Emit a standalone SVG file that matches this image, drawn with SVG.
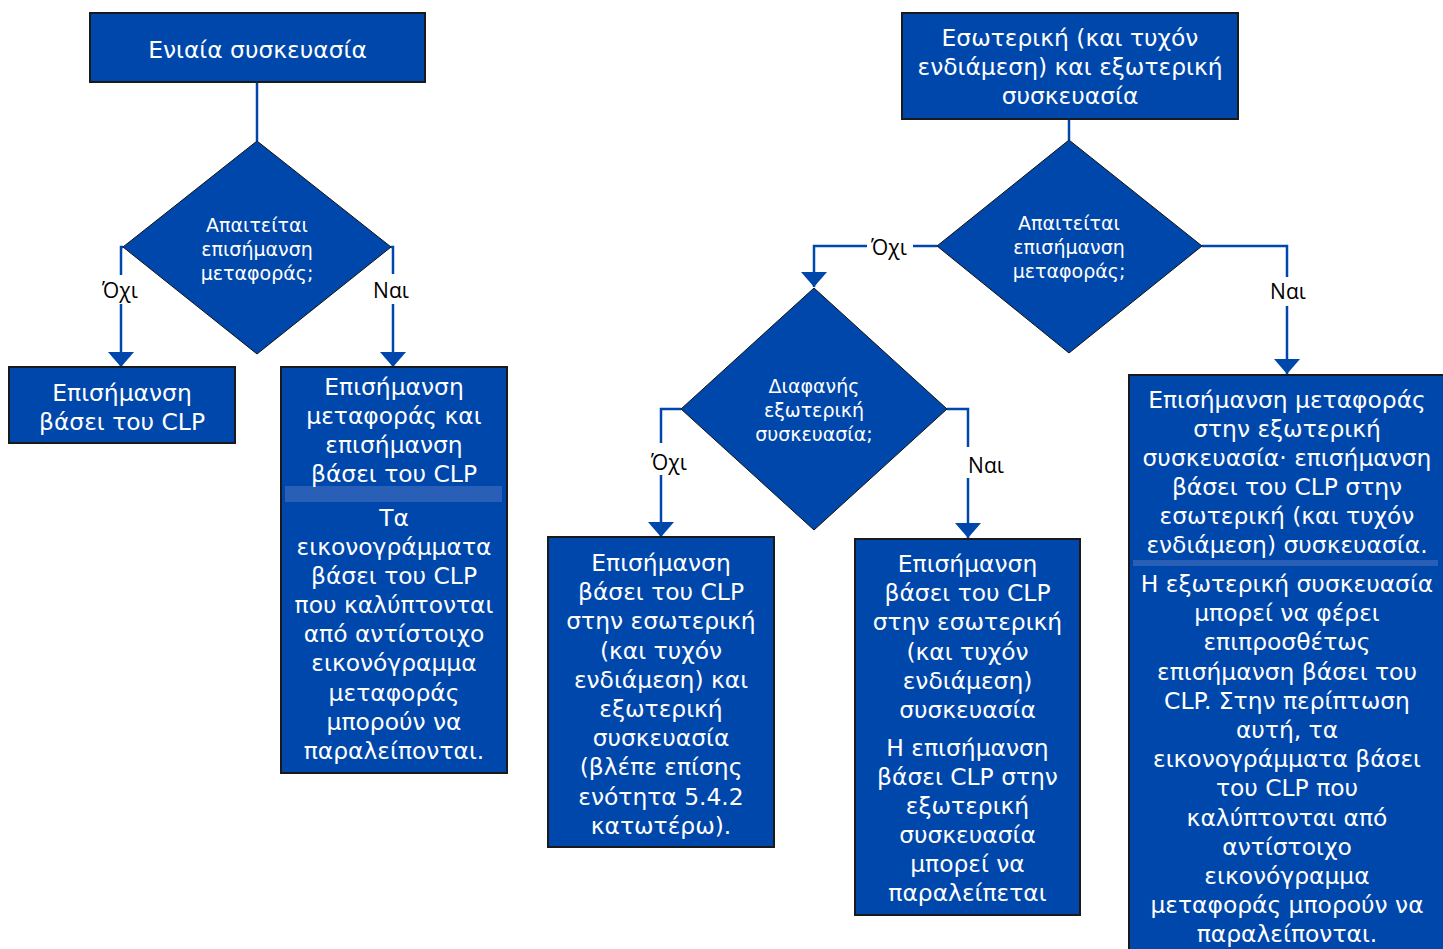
<svg xmlns="http://www.w3.org/2000/svg" width="1443" height="949" viewBox="0 0 1443 949">
<defs>
<marker id="arr" viewBox="0 0 15 26" refX="15" refY="13" markerWidth="15" markerHeight="26" markerUnits="userSpaceOnUse" orient="auto">
<path d="M0,0 L15,13 L0,26 z" fill="#0047AB"/>
</marker>
<style>
.box{fill:#0047AB;stroke:#1a1a1a;stroke-width:2}
.dia{fill:#0047AB;stroke:#111;stroke-width:1}
.band{fill:#2A5FB8}
.bt{font-family:"DejaVu Sans",Verdana,sans-serif;font-size:23.4px;fill:#fff;text-anchor:middle}
.dt{font-family:"DejaVu Sans",sans-serif;font-size:19px;fill:#fff;text-anchor:middle}
.lbl{font-family:"Open Sans","Noto Sans",sans-serif;font-size:21px;fill:#000;text-anchor:middle}
.con{fill:none;stroke:#0047AB;stroke-width:2.5}
</style>
</defs>
<rect width="1443" height="949" fill="#fff"/>
<g id="connectors">
<path class="con" d="M257,83 V141"/>
<path class="con" d="M123,247 H121 V275 M121,304 V367" marker-end="url(#arr)"/>
<path class="con" d="M391,247 H393 V274 M393,304 V367" marker-end="url(#arr)"/>
<path class="con" d="M1069,119 V140"/>
<path class="con" d="M937,246 H913 M867,246 H814 V287" marker-end="url(#arr)"/>
<path class="con" d="M1202,246 H1287 V277 M1287,306 V374" marker-end="url(#arr)"/>
<path class="con" d="M681,409 H661 V443 M661,475 V537" marker-end="url(#arr)"/>
<path class="con" d="M947,409 H968 V447 M968,478 V538" marker-end="url(#arr)"/>
</g>
<g id="labels">
<text class="lbl" x="120" y="298">Όχι</text>
<text class="lbl" x="391" y="298">Ναι</text>
<text class="lbl" x="889" y="255">Όχι</text>
<text class="lbl" x="1288" y="299">Ναι</text>
<text class="lbl" x="669" y="470">Όχι</text>
<text class="lbl" x="986" y="473">Ναι</text>
</g>
<g id="n1">
<rect class="box" x="90" y="13" width="335" height="69"/>
<text class="bt" x="257.5" y="58">Ενιαία συσκευασία</text>
</g>
<g id="d1">
<polygon class="dia" points="257,141 391,247 257,354 123,247"/>
<text class="dt"><tspan x="257" y="232">Απαιτείται</tspan><tspan x="257" y="256">επισήμανση</tspan><tspan x="257" y="280">μεταφοράς;</tspan></text>
</g>
<g id="n2">
<rect class="box" x="9" y="367" width="226" height="76"/>
<text class="bt"><tspan x="122" y="401">Επισήμανση</tspan><tspan x="122" y="430">βάσει του CLP</tspan></text>
</g>
<g id="n3">
<rect class="box" x="281" y="367" width="226" height="406"/>
<rect class="band" x="285" y="486" width="217" height="16"/>
<text class="bt"><tspan x="394" y="395">Επισήμανση</tspan><tspan x="394" y="424">μεταφοράς και</tspan><tspan x="394" y="453">επισήμανση</tspan><tspan x="394" y="482">βάσει του CLP</tspan><tspan x="394" y="526">Τα</tspan><tspan x="394" y="555">εικονογράμματα</tspan><tspan x="394" y="584">βάσει του CLP</tspan><tspan x="394" y="613">που καλύπτονται</tspan><tspan x="394" y="642">από αντίστοιχο</tspan><tspan x="394" y="671">εικονόγραμμα</tspan><tspan x="394" y="701">μεταφοράς</tspan><tspan x="394" y="730">μπορούν να</tspan><tspan x="394" y="759">παραλείπονται.</tspan></text>
</g>
<g id="n4">
<rect class="box" x="902" y="13" width="336" height="106"/>
<text class="bt"><tspan x="1070" y="46">Εσωτερική (και τυχόν</tspan><tspan x="1070" y="75">ενδιάμεση) και εξωτερική</tspan><tspan x="1070" y="104">συσκευασία</tspan></text>
</g>
<g id="d2">
<polygon class="dia" points="1069,140 1202,246 1069,353 937,246"/>
<text class="dt"><tspan x="1069" y="230">Απαιτείται</tspan><tspan x="1069" y="254">επισήμανση</tspan><tspan x="1069" y="278">μεταφοράς;</tspan></text>
</g>
<g id="d3">
<polygon class="dia" points="814,288 947,409 814,530 681,409"/>
<text class="dt"><tspan x="814" y="393">Διαφανής</tspan><tspan x="814" y="417">εξωτερική</tspan><tspan x="814" y="441">συσκευασία;</tspan></text>
</g>
<g id="n5">
<rect class="box" x="548" y="537" width="226" height="310"/>
<text class="bt"><tspan x="661" y="571">Επισήμανση</tspan><tspan x="661" y="600">βάσει του CLP</tspan><tspan x="661" y="629">στην εσωτερική</tspan><tspan x="661" y="659">(και τυχόν</tspan><tspan x="661" y="688">ενδιάμεση) και</tspan><tspan x="661" y="717">εξωτερική</tspan><tspan x="661" y="746">συσκευασία</tspan><tspan x="661" y="775">(βλέπε επίσης</tspan><tspan x="661" y="805">ενότητα 5.4.2</tspan><tspan x="661" y="834">κατωτέρω).</tspan></text>
</g>
<g id="n6">
<rect class="box" x="855" y="539" width="225" height="376"/>
<text class="bt"><tspan x="967.5" y="572">Επισήμανση</tspan><tspan x="967.5" y="601">βάσει του CLP</tspan><tspan x="967.5" y="630">στην εσωτερική</tspan><tspan x="967.5" y="660">(και τυχόν</tspan><tspan x="967.5" y="689">ενδιάμεση)</tspan><tspan x="967.5" y="718">συσκευασία</tspan><tspan x="967.5" y="756">Η επισήμανση</tspan><tspan x="967.5" y="785">βάσει CLP στην</tspan><tspan x="967.5" y="814">εξωτερική</tspan><tspan x="967.5" y="843">συσκευασία</tspan><tspan x="967.5" y="872">μπορεί να</tspan><tspan x="967.5" y="901">παραλείπεται</tspan></text>
</g>
<g id="n7">
<rect class="box" x="1129" y="375" width="320" height="590"/>
<rect class="band" x="1133" y="560" width="305" height="6"/>
<text class="bt"><tspan x="1287" y="408">Επισήμανση μεταφοράς</tspan><tspan x="1287" y="437">στην εξωτερική</tspan><tspan x="1287" y="466">συσκευασία· επισήμανση</tspan><tspan x="1287" y="495">βάσει του CLP στην</tspan><tspan x="1287" y="524">εσωτερική (και τυχόν</tspan><tspan x="1287" y="553">ενδιάμεση) συσκευασία.</tspan><tspan x="1287" y="592">Η εξωτερική συσκευασία</tspan><tspan x="1287" y="621">μπορεί να φέρει</tspan><tspan x="1287" y="650">επιπροσθέτως</tspan><tspan x="1287" y="680">επισήμανση βάσει του</tspan><tspan x="1287" y="709">CLP. Στην περίπτωση</tspan><tspan x="1287" y="738">αυτή, τα</tspan><tspan x="1287" y="767">εικονογράμματα βάσει</tspan><tspan x="1287" y="796">του CLP που</tspan><tspan x="1287" y="826">καλύπτονται από</tspan><tspan x="1287" y="855">αντίστοιχο</tspan><tspan x="1287" y="884">εικονόγραμμα</tspan><tspan x="1287" y="913">μεταφοράς μπορούν να</tspan><tspan x="1287" y="942">παραλείπονται.</tspan></text>
</g>
</svg>
